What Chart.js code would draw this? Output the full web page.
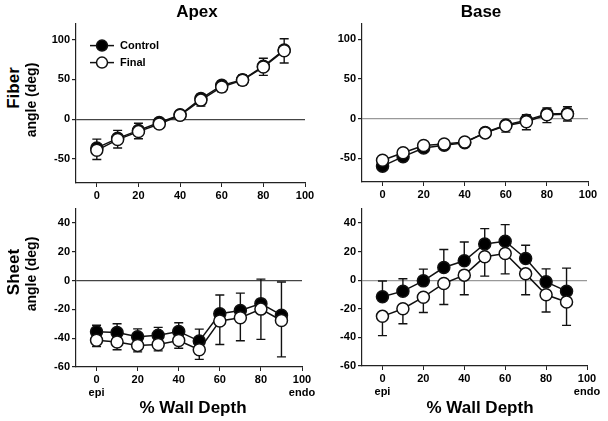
<!DOCTYPE html>
<html>
<head>
<meta charset="utf-8">
<script src="https://cdn.jsdelivr.net/npm/chart.js@4/dist/chart.umd.min.js"></script>
<style>
  html, body { margin:0; padding:0; background:#fff; }
  #wrap { position:relative; width:608px; height:421px; overflow:hidden; font-family:"Liberation Sans", Arial, sans-serif; color:#000; }
  #wrap canvas { position:absolute; }
  .lbl { position:absolute; font-weight:bold; white-space:nowrap; transform:translate(-50%,-50%); }
  .rot { transform:translate(-50%,-50%) rotate(-90deg); }
</style>
</head>
<body>
<div id="wrap">
  <canvas id="apexFiber"  width="285" height="190" style="left:36px;top:15px"></canvas>
  <canvas id="baseFiber"  width="282" height="189" style="left:322px;top:15px"></canvas>
  <canvas id="apexSheet"  width="282" height="203" style="left:36px;top:200px"></canvas>
  <canvas id="baseSheet"  width="281" height="202" style="left:322px;top:200px"></canvas>

  <div class="lbl" style="left:197px;top:12px;font-size:17px">Apex</div>
  <div class="lbl" style="left:481px;top:12px;font-size:17px">Base</div>
  <div class="lbl rot" style="left:14px;top:88px;font-size:17px">Fiber</div>
  <div class="lbl rot" style="left:31px;top:100px;font-size:14px">angle (deg)</div>
  <div class="lbl rot" style="left:14px;top:272px;font-size:17px">Sheet</div>
  <div class="lbl rot" style="left:31px;top:274px;font-size:14px">angle (deg)</div>
  <div class="lbl" style="left:193px;top:408px;font-size:17px">% Wall Depth</div>
  <div class="lbl" style="left:480px;top:408px;font-size:17px">% Wall Depth</div>
</div>

<script>
// ---- data (deg) ----
const depth = [0, 10, 20, 30, 40, 50, 60, 70, 80, 90];

const apexFiberCtrl     = [-36, -24, -14, -4, 5.5, 26, 42.5, 49.5, 66.5, 87];
const apexFiberFinal    = [-39, -25.5, -15.5, -6, 5, 24, 40.5, 49, 65.5, 86];
const apexFiberCtrlErr  = [11, 10, 9, 4, 3, 5.5, 5, 6, 10, 14];
const apexFiberFinalErr = [11.5, 10.5, 9, 5.5, 4, 7.5, 6, 6, 10.5, 15.5];

const baseFiberCtrl     = [-60, -48, -37, -33.5, -30.5, -17.5, -8, -2, 6, 6.5];
const baseFiberFinal    = [-52.5, -43, -34, -32, -29.5, -18, -9, -4, 5, 5.5];
const baseFiberCtrlErr  = [3, 3, 3, 3, 3, 3, 4, 7, 7.5, 8.5];
const baseFiberFinalErr = [3, 3, 3, 3, 3, 3, 8, 10, 10, 8.5];

const apexSheetCtrl     = [-35.6, -36, -39, -38, -35.3, -42, -23, -20.7, -16, -24];
const apexSheetFinal    = [-41.4, -42.6, -45, -44.4, -41.6, -48, -28, -25.8, -19.8, -27.7];
const apexSheetCtrlErr  = [4.6, 6, 5.5, 5.5, 6, 8.3, 13, 12, 17, 23];
const apexSheetFinalErr = [4.4, 5.4, 4.5, 4.4, 5.4, 6.7, 16.4, 16, 21, 25.3];

const baseSheetCtrl     = [-11.6, -7.7, -0.5, 8.8, 13.5, 25.3, 27.2, 15.1, -1.2, -7.7];
const baseSheetFinal    = [-25.3, -20, -11.9, -2.3, 3.5, 16.3, 18.6, 4.4, -10.2, -15.3];
const baseSheetCtrlErr  = [11, 8.7, 8.2, 12.6, 13.2, 10.7, 11.6, 9.3, 9.1, 16.1];
const baseSheetFinalErr = [13.5, 10.5, 10.7, 14.7, 13.7, 13.5, 14.2, 14.6, 12.1, 16.3];

// ---- axes ----
const depthTicks   = [0, 20, 40, 60, 80, 100];
const depthLabels  = ['0', '20', '40', '60', '80', '100'];
const depthLabelsB = [['0', 'epi'], '20', '40', '60', '80', ['100', 'endo']];
const fiberTicks   = [-50, 0, 50, 100];
const sheetTicks   = [-60, -40, -20, 0, 20, 40];
const seriesNames  = ['Control', 'Final'];

const FONT = { family: '"Liberation Sans", Arial, sans-serif', weight: 'bold', size: 11 };

// error bars: control goes up, final goes down
const errorBars = {
  id: 'errorBars',
  beforeDatasetsDraw(chart) {
    const { ctx, scales: { x, y } } = chart;
    ctx.save();
    ctx.strokeStyle = '#111';
    ctx.lineWidth = 1.4;
    chart.data.datasets.forEach(ds => {
      ds.err.forEach((e, i) => {
        const px = x.getPixelForValue(ds.data[i].x);
        const v  = ds.data[i].y;
        const y0 = y.getPixelForValue(v);
        const y1 = y.getPixelForValue(v + ds.dir * e);
        ctx.beginPath();
        ctx.moveTo(px, y0); ctx.lineTo(px, y1);
        ctx.moveTo(px - 4.5, y1); ctx.lineTo(px + 4.5, y1);
        ctx.stroke();
      });
    });
    ctx.restore();
  }
};

const legendBox = {
  id: 'legendBox',
  afterDatasetsDraw(chart) {
    if (!chart.options.plugins.legendBox.show) return;
    const { ctx, chartArea: a } = chart;
    ctx.save();
    seriesNames.forEach((name, i) => {
      const yy = a.top + 22 + i * 17;
      const x0 = a.left + 14;
      ctx.strokeStyle = '#111'; ctx.lineWidth = 1.5;
      ctx.beginPath(); ctx.moveTo(x0, yy); ctx.lineTo(x0 + 24, yy); ctx.stroke();
      ctx.beginPath(); ctx.arc(x0 + 12, yy, 5.5, 0, Math.PI * 2);
      ctx.fillStyle = i === 0 ? '#000' : '#fff';
      ctx.fill(); ctx.stroke();
      ctx.fillStyle = '#000';
      ctx.font = 'bold 11px "Liberation Sans", Arial, sans-serif';
      ctx.textBaseline = 'middle';
      ctx.fillText(name, x0 + 30, yy);
    });
    ctx.restore();
  }
};

function series(label, vals, err, dir, fill, order) {
  return {
    label,
    data: depth.map((d, i) => ({ x: d, y: vals[i] })),
    err, dir, order,
    borderColor: '#111', borderWidth: 1.5,
    pointRadius: 6, pointHoverRadius: 6,
    pointBackgroundColor: fill, pointBorderColor: '#111', pointBorderWidth: 1.5,
    tension: 0
  };
}

function makePanel(id, opts) {
  const yH = opts.bottomRow ? 36 : 22;
  new Chart(document.getElementById(id), {
    type: 'line',
    data: {
      datasets: [
        series('Final', opts.fin, opts.finErr, -1, '#fff', 1),
        series('Control', opts.ctrl, opts.ctrlErr, 1, '#000', 2)
      ]
    },
    options: {
      responsive: false, animation: false,
      layout: { padding: { top: 8, right: 16, left: 0, bottom: 0 } },
      plugins: { legend: { display: false }, tooltip: { enabled: false }, legendBox: { show: !!opts.legend } },
      scales: {
        x: {
          type: 'linear', min: -10, max: 100,
          afterBuildTicks: s => { s.ticks = depthTicks.map(v => ({ value: v })); },
          afterFit: s => { s.height = yH; },
          ticks: {
            color: '#000', font: FONT, padding: 2, maxRotation: 0,
            callback: (v, i) => (opts.bottomRow ? depthLabelsB : depthLabels)[i]
          },
          grid: { drawOnChartArea: false, tickLength: 4, tickColor: '#222', color: '#222' },
          border: { color: '#222', width: 1.2 }
        },
        y: {
          min: opts.yMin, max: opts.yMax,
          afterBuildTicks: s => { s.ticks = opts.yTicks.map(v => ({ value: v })); },
          afterFit: s => { s.width = 40; },
          ticks: { color: '#000', font: FONT, padding: 2 },
          grid: {
            drawOnChartArea: true, tickLength: 4, tickColor: '#222',
            color: c => c.tick && c.tick.value === 0 ? opts.zeroColor : 'rgba(0,0,0,0)',
            lineWidth: 1.2
          },
          border: { color: '#222', width: 1.2 }
        }
      }
    },
    plugins: [errorBars, legendBox]
  });
}

makePanel('apexFiber', {
  ctrl: apexFiberCtrl, fin: apexFiberFinal, ctrlErr: apexFiberCtrlErr, finErr: apexFiberFinalErr,
  yMin: -80, yMax: 120, yTicks: fiberTicks, zeroColor: '#444', legend: true
});
makePanel('baseFiber', {
  ctrl: baseFiberCtrl, fin: baseFiberFinal, ctrlErr: baseFiberCtrlErr, finErr: baseFiberFinalErr,
  yMin: -80, yMax: 120, yTicks: fiberTicks, zeroColor: '#999'
});
makePanel('apexSheet', {
  ctrl: apexSheetCtrl, fin: apexSheetFinal, ctrlErr: apexSheetCtrlErr, finErr: apexSheetFinalErr,
  yMin: -60, yMax: 50, yTicks: sheetTicks, zeroColor: '#444', bottomRow: true
});
makePanel('baseSheet', {
  ctrl: baseSheetCtrl, fin: baseSheetFinal, ctrlErr: baseSheetCtrlErr, finErr: baseSheetFinalErr,
  yMin: -60, yMax: 50, yTicks: sheetTicks, zeroColor: '#999', bottomRow: true
});
</script>
</body>
</html>
